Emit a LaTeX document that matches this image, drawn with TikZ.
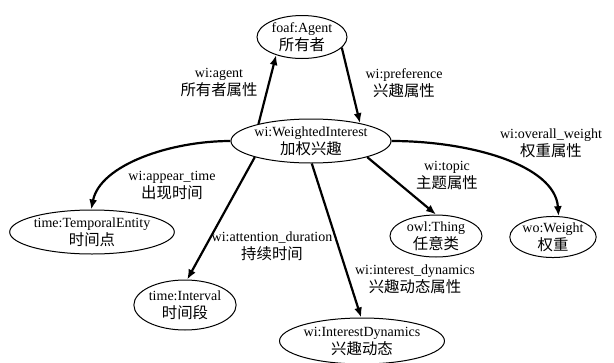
\documentclass[tikz,border=0pt]{standalone}
\usepackage{fontspec}
\setmainfont{Liberation Serif}
\newfontfamily\cjk[Scale=1.1]{Noto Sans CJK SC}
\usetikzlibrary{shapes.geometric,arrows.meta}
\begin{document}
\begin{tikzpicture}[x=1pt,y=-1pt,
  ell/.style={draw, ellipse, line width=1pt, inner sep=0pt, align=center,
    font=\fontsize{14}{18}\selectfont},
  lbl/.style={align=center, font=\fontsize{14}{18}\selectfont, inner sep=0pt},
  rel/.style={line width=2.2pt, -{Latex[length=10pt,width=8pt]}}]
\useasboundingbox[fill=white] (0,0) rectangle (614,362);
\node[ell, minimum width=90pt, minimum height=43pt] (agent) at (302,37) {foaf:Agent\\{\cjk 所有者}};
\node[ell, minimum width=156pt, minimum height=44pt] (wi) at (311,141) {wi:WeightedInterest\\{\cjk 加权兴趣}};
\node[ell, minimum width=160pt, minimum height=44pt] (te) at (92,232) {time:TemporalEntity\\{\cjk 时间点}};
\node[ell, minimum width=100pt, minimum height=50pt] (iv) at (185,305) {time:Interval\\{\cjk 时间段}};
\node[ell, minimum width=160pt, minimum height=46pt] (id) at (362,341) {wi:InterestDynamics\\{\cjk 兴趣动态}};
\node[ell, minimum width=92pt, minimum height=42pt] (thing) at (436,236) {owl:Thing\\{\cjk 任意类}};
\node[ell, minimum width=80pt, minimum height=40pt] (weight) at (553,237) {wo:Weight\\{\cjk 权重}};

\node[lbl] (l1) at (219,82) {wi:agent\\{\cjk 所有者属性}};
\node[lbl] (l2) at (404,83) {wi:preference\\{\cjk 兴趣属性}};
\node[lbl] (l3) at (172,186) {wi:appear\_time\\{\cjk 出现时间}};
\node[lbl] (l4) at (272,246) {wi:attention\_duration\\{\cjk 持续时间}};
\node[lbl] (l5) at (415,279) {wi:interest\_dynamics\\{\cjk 兴趣动态属性}};
\node[lbl] (l6) at (447,175) {wi:topic\\{\cjk 主题属性}};
\node[lbl] (l7) at (551,143) {wi:overall\_weight\\{\cjk 权重属性}};

\draw[rel] (wi.162) -- (agent.215);
\draw[rel] (agent.345) -- (wi.20);
\draw[rel] (wi.west) .. controls (170,141) and (100,165) .. (te.92);
\draw[rel] (wi.196) -- (iv.85);
\draw[rel] (wi.272) -- (id.92);
\draw[rel] (wi.344) -- (thing.90);
\draw[rel] (wi.east) .. controls (470,141) and (555,165) .. (weight.75);
\end{tikzpicture}
\end{document}
